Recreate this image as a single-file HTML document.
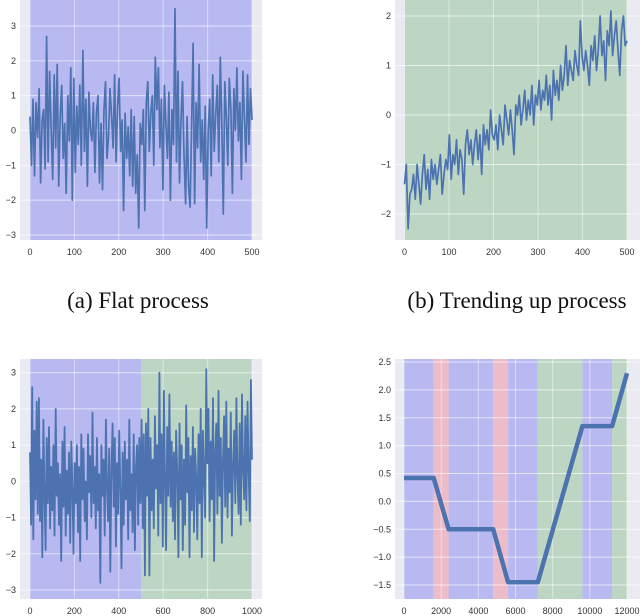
<!DOCTYPE html>
<html><head><meta charset="utf-8">
<style>
body{margin:0;background:#fff;width:640px;height:616px;overflow:hidden}
svg{display:block}
text{font-family:"Liberation Sans",sans-serif;font-size:9px;fill:#333}
.cap{font-family:"Liberation Serif",serif;font-size:23px;fill:#111}
</style></head>
<body>
<svg id="fig" width="640" height="616">
<text class="cap" x="138" y="308" text-anchor="middle">(a) Flat process</text>
<text class="cap" x="517" y="308" text-anchor="middle">(b) Trending up process</text>
</svg>
<script>
const flatValues=[0.4,-1.0,0.9,-1.3,0.8,-0.2,1.2,-1.5,0.3,0.6,-1.1,2.7,-0.9,1.7,0.1,-1.4,1.6,-0.5,1.9,-1.6,0.4,1.3,-0.8,0.2,-1.8,1.0,-0.3,1.8,-2.0,1.5,-1.2,0.7,-0.4,1.3,-1.0,2.3,-0.6,0.9,-1.6,1.1,0.0,-0.3,0.8,-1.2,0.5,1.0,-1.5,0.2,-1.7,0.6,1.4,-0.8,-0.2,1.2,0.4,-0.5,1.6,-0.9,0.7,1.5,-0.6,0.3,-2.3,0.5,-0.8,0.1,-1.3,0.6,-1.6,0.4,-1.8,-0.7,-2.8,0.2,-0.4,0.6,-2.3,0.8,1.4,-0.6,0.5,1.0,-1.0,2.1,0.6,1.8,-0.5,0.9,-1.7,1.3,0.2,-0.8,1.1,-2.0,0.6,-0.4,3.5,-0.9,1.7,-1.5,0.3,1.4,-0.7,-2.1,0.4,-1.6,-2.2,0.1,2.5,-2.1,0.8,-0.5,1.9,-0.9,0.3,-1.4,0.7,-2.8,0.0,0.9,-1.3,1.6,-0.6,0.5,1.3,-0.9,2.1,0.2,-2.4,1.4,0.4,-1.0,1.5,0.6,-1.8,1.2,0.0,1.8,-0.3,0.8,-1.4,1.7,0.4,-0.9,1.6,-0.4,1.2,0.3];
const trendValues=[-1.4,-1.0,-2.3,-1.6,-1.5,-1.2,-1.7,-1.0,-1.4,-1.8,-1.2,-0.8,-1.5,-1.1,-1.7,-0.9,-1.3,-1.0,-1.4,-1.1,-0.8,-1.6,-1.2,-0.9,-1.1,-0.4,-1.3,-0.8,-1.0,-0.5,-1.2,-0.7,-0.9,-1.6,-0.6,-0.3,-0.8,-0.5,-1.0,-0.6,-0.3,-0.9,-0.4,-1.2,-0.2,-0.6,-0.3,-0.7,0.1,-0.4,-0.5,-0.2,-0.7,0.0,-0.3,-0.6,0.2,-0.1,-0.4,0.1,-0.3,-0.8,0.2,0.0,0.4,-0.2,0.1,0.5,-0.1,0.3,0.0,0.6,-0.2,0.4,0.2,0.7,0.1,0.5,0.3,0.8,0.2,0.6,-0.1,0.9,0.4,0.7,0.3,1.0,0.5,0.8,1.4,0.6,1.1,0.9,0.7,1.3,1.0,0.8,1.9,1.2,0.9,1.3,1.0,0.6,1.4,1.1,1.6,0.9,1.3,2.0,1.2,1.5,0.7,1.7,1.4,2.1,1.2,1.6,1.9,1.3,0.8,1.7,2.0,1.4,1.5];
const shiftValues=[0.8,-1.2,2.6,-1.6,1.4,-0.5,2.2,-0.9,2.3,-1.1,0.6,-2.1,1.7,-0.3,-1.9,1.2,-0.6,1.5,-1.3,0.4,-0.8,1.0,-1.5,2.0,-0.4,0.5,-1.2,0.2,-2.2,1.1,-0.7,1.5,-1.5,0.3,-0.9,0.8,-1.7,1.1,-0.2,-2.0,0.5,-0.6,1.0,-1.4,0.4,-2.2,1.3,-0.5,0.9,-1.1,0.0,-1.6,1.3,-0.3,0.7,-1.0,1.9,-0.6,0.4,-1.3,1.2,-0.8,0.2,-2.8,1.0,-0.4,0.6,-1.5,1.7,-0.2,-1.1,0.9,-2.5,0.3,1.6,-0.7,1.2,-1.8,0.5,-0.9,1.4,-0.3,-2.4,0.8,-1.2,1.1,-0.5,0.6,-1.6,1.7,-0.8,0.2,-1.4,1.3,-1.9,0.4,1.0,-1.2,1.2,-0.6,
1.7,-1.3,1.3,-2.6,1.6,-0.4,2.0,-2.6,1.2,-0.8,0.6,-1.3,1.8,-0.2,1.0,-1.5,3.0,-0.6,1.3,-1.8,2.5,0.0,-1.9,1.5,-0.4,2.4,-0.7,1.1,-1.1,0.8,-1.6,1.4,0.2,-2.1,1.6,-0.5,1.0,-1.9,0.6,-1.2,2.1,-0.3,1.2,-2.1,0.7,-0.8,1.5,-1.4,0.9,0.1,-1.6,1.3,-0.6,2.0,-2.1,1.4,0.2,-1.0,3.1,0.5,2.0,-1.1,1.1,-0.5,2.3,-2.2,0.8,1.6,-0.9,2.5,-0.4,1.2,-1.7,0.6,1.8,-0.7,2.2,-1.0,0.9,-0.3,1.9,-1.5,0.4,1.4,-0.6,2.3,0.1,-0.9,1.6,-1.2,2.4,0.3,-0.5,1.8,-0.8,2.2,0.2,-1.1,2.8,0.6];
const pieceX=[0,1600,2400,4800,5600,7200,9600,11200,12000];
const pieceY=[0.42,0.42,-0.5,-0.5,-1.45,-1.45,1.35,1.35,2.3];
const regionStart=[0,1600,2400,4800,5600,7200,9600,11200];
const regionEnd=[1600,2400,4800,5600,7200,9600,11200,12000];
const regionKind=['flat','down','flat','down','flat','up','flat','up'];
const ticksA=[0,100,200,300,400,500], yTicksA=[-3,-2,-1,0,1,2,3];
const yTicksB=[-2,-1,0,1,2];
const ticksC=[0,200,400,600,800,1000];
const ticksD=[0,2000,4000,6000,8000,10000,12000];
const yTicksD=[-1.5,-1.0,-0.5,0.0,0.5,1.0,1.5,2.0,2.5];
const COL={flat:'#b9b9f2',up:'#bdd6c4',down:'#ecbcc8'};
const NS='http://www.w3.org/2000/svg';
const fig=document.getElementById('fig');
function mk(tag,attrs,parent){const e=document.createElementNS(NS,tag);for(const k in attrs)e.setAttribute(k,attrs[k]);(parent||fig).appendChild(e);return e;}
function panel(p){
  const g=mk('g',{});
  
  
  const sx=v=>p.x0+(v-p.xmin)/(p.xmax-p.xmin)*(p.x1-p.x0);
  const sy=v=>p.y0+(v-p.ymin)/(p.ymax-p.ymin)*(p.y1-p.y0);
  const bg=mk('rect',{x:p.L,y:p.T,width:p.R-p.L,height:p.B-p.T,fill:'#eaeaf2'},g);
  
  
  p.regions.forEach(r=>{
    const re=mk('rect',{x:sx(r[0]),y:p.T,width:sx(r[1])-sx(r[0]),height:p.B-p.T,fill:COL[r[2]]},g);
    
    
  });
  p.xt.forEach(t=>{
    mk('line',{x1:sx(t),x2:sx(t),y1:p.T,y2:p.B,stroke:'#fff','stroke-opacity':0.45,'stroke-width':1},g);
    const tx=mk('text',{x:sx(t),y:p.labY,'text-anchor':'middle'},g);tx.textContent=p.fmtX?p.fmtX(t):t;
    
    
  });
  p.yt.forEach(t=>{
    mk('line',{x1:p.L,x2:p.R,y1:sy(t),y2:sy(t),stroke:'#fff','stroke-opacity':0.6,'stroke-width':1},g);
    const tx=mk('text',{x:p.L-4,y:sy(t)+3,'text-anchor':'end'},g);tx.textContent=p.fmtY?p.fmtY(t):(t<0?'\u2212'+(-t):t);
    
    
  });
  const pts=p.xs.map((x,i)=>sx(x).toFixed(1)+','+sy(p.ys[i]).toFixed(1)).join(' ');
  const ln=mk('polyline',{points:pts,fill:'none',stroke:'#4c72b0','stroke-width':p.sw,'stroke-linejoin':'round'},g);
  
  
}
const idx=(arr,max)=>arr.map((_,i)=>i*max/(arr.length-1));
panel({name:'chart-flat',L:20,R:262,T:0,B:240,x0:30,x1:252,xmin:0,xmax:500,y0:26,y1:235,ymin:3,ymax:-3,
  regions:[[0,500,'flat']],xt:ticksA,yt:yTicksA,labY:255,xs:idx(flatValues,500),ys:flatValues,sw:1.7});
panel({name:'chart-trend',L:395,R:640,T:0,B:240,x0:404.5,x1:627,xmin:0,xmax:500,y0:16,y1:214,ymin:2,ymax:-2,
  regions:[[0,500,'up']],xt:ticksA,yt:yTicksB,labY:255,xs:idx(trendValues,500),ys:trendValues,sw:1.7});
panel({name:'chart-shift',L:20,R:262,T:359,B:599,x0:30,x1:252,xmin:0,xmax:1000,y0:372.7,y1:590,ymin:3,ymax:-3,
  regions:[[0,500,'flat'],[500,1000,'up']],xt:ticksC,yt:yTicksA,labY:614,xs:idx(shiftValues,1000),ys:shiftValues,sw:1.8});
panel({name:'chart-regimes',L:395,R:640,T:359,B:599,x0:404,x1:627,xmin:0,xmax:12000,y0:362,y1:585,ymin:2.5,ymax:-1.5,
  regions:regionStart.map((s,i)=>[s,regionEnd[i],regionKind[i]]),xt:ticksD,yt:yTicksD,labY:614,
  fmtY:t=>(t<0?'\u2212':'')+Math.abs(t).toFixed(1),xs:pieceX,ys:pieceY,sw:4.5});
</script>
</body></html>
